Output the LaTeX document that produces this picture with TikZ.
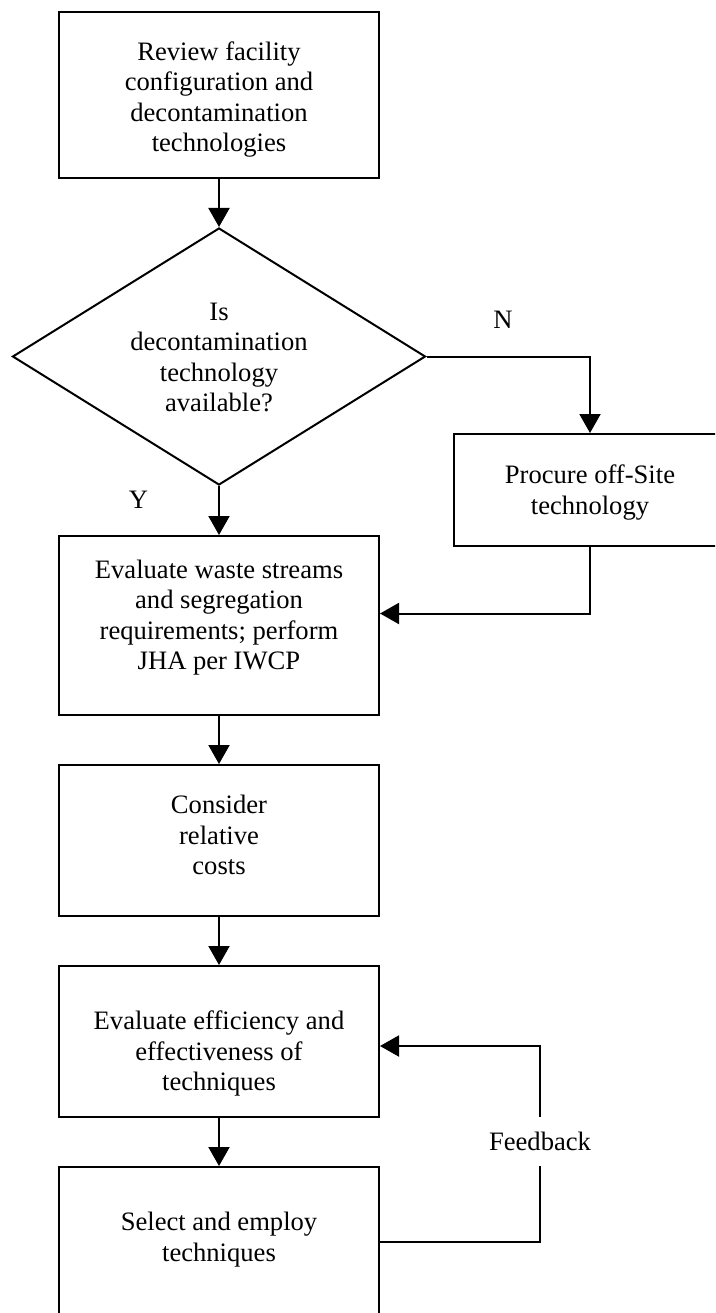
\documentclass[tikz,border=0pt]{standalone}
\usepackage{fontspec}
\setmainfont{Liberation Serif}
\usetikzlibrary{arrows.meta,shapes.geometric}

\tikzset{
  flow/.style={line width=2pt, draw=black},
  arr/.style={flow, -{Triangle[length=19pt,width=21pt]}},
  stepbox/.style={draw=black, line width=2pt, rectangle, inner sep=0pt,
                  minimum width=320pt},
  decision/.style={draw=black, line width=2pt, diamond, inner sep=0pt,
                   minimum width=413pt, minimum height=257pt, shape aspect=1.607},
  txt/.style={align=center, inner sep=0pt,
              font=\fontsize{26.6pt}{30.3pt}\selectfont},
  lbl/.style={inner sep=0pt, font=\fontsize{26.6pt}{30.3pt}\selectfont},
}

\begin{document}
\begin{tikzpicture}[x=1pt, y=-1pt]
  \useasboundingbox (0,0) rectangle (715,1313);
  \clip (0,0) rectangle (715,1313);
  \fill[white] (0,0) rectangle (715,1313);

  % boxes of the main column
  \node[stepbox, minimum height=166pt] (b1) at (219,95) {};
  \node[decision] (dia) at (219,356.5) {};
  \node[draw=black, line width=2pt, rectangle, inner sep=0pt,
        minimum width=272pt, minimum height=112pt] (proc) at (590,490) {};
  \node[stepbox, minimum height=179pt] (b3) at (219,625.5) {};
  \node[stepbox, minimum height=151pt] (b4) at (219,840.5) {};
  \node[stepbox, minimum height=151pt] (b5) at (219,1041.5) {};
  \node[stepbox, minimum height=173pt] (b6) at (219,1253.5) {};

  % texts
  \node[txt] (b1t) at (219,100) {\strut Review facility\\ \strut configuration and\\
        \strut decontamination\\ \strut technologies};
  \node[txt] (diat) at (219,360) {\strut Is\\ \strut decontamination\\
        \strut technology\\ \strut available?};
  \node[txt] (proct) at (590,493) {\strut Procure off-Site\\ \strut technology};
  \node[txt] (b3t) at (219,618) {\strut Evaluate waste streams\\ \strut and segregation\\
        \strut requirements; perform\\ \strut JHA per IWCP};
  \node[txt] (b4t) at (219,838) {\strut Consider\\ \strut relative\\ \strut costs};
  \node[txt] (b5t) at (219,1054) {\strut Evaluate efficiency and\\
        \strut effectiveness of\\ \strut techniques};
  \node[txt] (b6t) at (219,1240) {\strut Select and employ\\ \strut techniques};

  % branch labels
  \node[lbl] (nlab) at (503,320) {N};
  \node[lbl] (ylab) at (138.5,499.5) {Y};
  \node[lbl, minimum height=49pt] (fb) at (540,1141.5) {Feedback};

  % connectors
  \draw[arr] (b1.south) -- (dia.north);
  \draw[arr] (dia.east) -| (proc.north);
  \draw[arr] (dia.south) -- (b3.north);
  \draw[arr] (proc.south) |- ([yshift=12pt]b3.east);
  \draw[arr] (b3.south) -- (b4.north);
  \draw[arr] (b4.south) -- (b5.north);
  \draw[arr] (b5.south) -- (b6.north);

  % feedback loop
  \draw[flow] ([yshift=11.5pt]b6.east) -| (fb.south);
  \draw[arr] (fb.north) |- ([yshift=-4.5pt]b5.east);
\end{tikzpicture}
\end{document}
